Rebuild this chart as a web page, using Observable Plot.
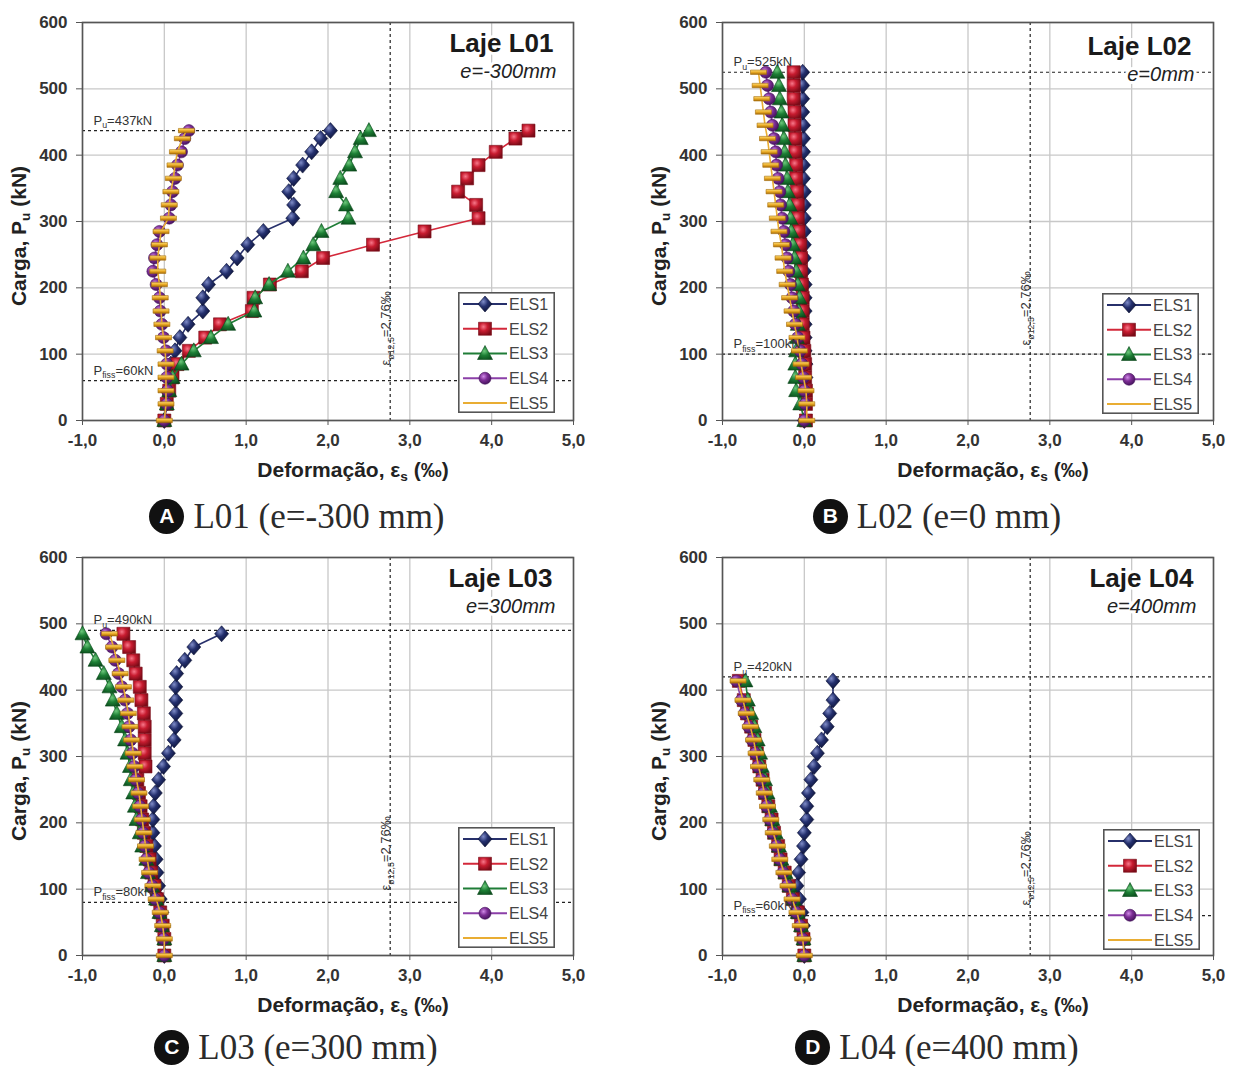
<!DOCTYPE html>
<html>
<head>
<meta charset="utf-8">
<script src="https://cdn.jsdelivr.net/npm/d3@7"></script>
<script src="https://cdn.jsdelivr.net/npm/@observablehq/plot@0.6"></script>
<style>
  html, body { margin: 0; padding: 0; background: #fff; }
  body { width: 1234px; height: 1066px; overflow: hidden; position: relative; font-family: "Liberation Sans", Arial, sans-serif; }
  .abs { position: absolute; }
  .xlab, .ylab { position: absolute; font-weight: bold; font-size: 21px; color: #222; white-space: nowrap; line-height: 1; }
  .xlab { transform: translate(-50%, -50%); }
  .ylab { transform: translate(-50%, -50%) rotate(-90deg); }
  .xlab sub, .ylab sub { font-size: 65%; vertical-align: -0.3em; }
  .cap { position: absolute; width: 420px; height: 50px; display: flex; align-items: center; justify-content: center; gap: 9px; }
  .badge { width: 35px; height: 35px; border-radius: 50%; background: #111; color: #fff; font: bold 21px "Liberation Sans", Arial, sans-serif; display: flex; align-items: center; justify-content: center; }
  .ctext { font-family: "Liberation Serif", "Times New Roman", serif; font-size: 35px; color: #2b2b2b; line-height: 1; }
</style>
</head>
<body>
<svg width="0" height="0" style="position:absolute">
  <defs>
    <radialGradient id="gELS1" cx="38%" cy="35%" r="70%">
      <stop offset="0%" stop-color="#7f8cc8"/><stop offset="45%" stop-color="#24306e"/><stop offset="100%" stop-color="#0c1236"/>
    </radialGradient>
    <radialGradient id="gELS2" cx="38%" cy="35%" r="70%">
      <stop offset="0%" stop-color="#f7788a"/><stop offset="45%" stop-color="#c81c30"/><stop offset="100%" stop-color="#7a0b17"/>
    </radialGradient>
    <radialGradient id="gELS3" cx="45%" cy="40%" r="70%">
      <stop offset="0%" stop-color="#6cc87b"/><stop offset="45%" stop-color="#1d7f35"/><stop offset="100%" stop-color="#0a4a1b"/>
    </radialGradient>
    <radialGradient id="gELS4" cx="38%" cy="35%" r="70%">
      <stop offset="0%" stop-color="#cf8ae6"/><stop offset="45%" stop-color="#7d2e96"/><stop offset="100%" stop-color="#43125a"/>
    </radialGradient>
    <linearGradient id="gELS5" x1="0" y1="0" x2="0" y2="1">
      <stop offset="0%" stop-color="#ffe07a"/><stop offset="50%" stop-color="#eaaa25"/><stop offset="100%" stop-color="#a66c08"/>
    </linearGradient>
  </defs>
</svg>
<div id="root"></div>
<script>
// ---------------- data ----------------
const seriesNames = ["ELS1", "ELS2", "ELS3", "ELS4", "ELS5"];
const xTicks = [-1, 0, 1, 2, 3, 4, 5];
const yTicks = [0, 100, 200, 300, 400, 500, 600];
const strainLimit = 2.76;
const strainLimitLabel = "2,76";

const slabTitles = ["Laje L01", "Laje L02", "Laje L03", "Laje L04"];
const eccLabels = ["e=-300mm", "e=0mm", "e=300mm", "e=400mm"];
const captionLetters = ["A", "B", "C", "D"];
const captionTexts = ["L01 (e=-300 mm)", "L02 (e=0 mm)", "L03 (e=300 mm)", "L04 (e=400 mm)"];
const puValues = [437, 525, 490, 420];
const pfissValues = [60, 100, 80, 60];

// L01
const loadsL01 = [0, 25, 45, 65, 85, 105, 125, 145, 165, 185, 205, 225, 245, 265, 285, 305, 325, 345, 365, 385, 405, 425, 437];
const l01ELS1 = [0.00, 0.02, 0.03, 0.05, 0.08, 0.13, 0.19, 0.29, 0.47, 0.47, 0.54, 0.76, 0.89, 1.02, 1.21, 1.57, 1.58, 1.52, 1.58, 1.69, 1.80, 1.91, 2.03];
const l01ELS2 = [0.00, 0.03, 0.06, 0.10, 0.16, 0.30, 0.50, 0.68, 1.07, 1.09, 1.29, 1.68, 1.94, 2.55, 3.18, 3.84, 3.81, 3.59, 3.70, 3.84, 4.05, 4.29, 4.45];
const l01ELS3 = [0.00, 0.03, 0.06, 0.10, 0.21, 0.36, 0.57, 0.78, 1.10, 1.11, 1.28, 1.51, 1.70, 1.82, 1.92, 2.25, 2.22, 2.10, 2.15, 2.26, 2.33, 2.40, 2.50];
const l01ELS4 = [0.00, 0.03, 0.04, 0.03, 0.03, 0.02, -0.01, -0.03, -0.05, -0.06, -0.10, -0.14, -0.12, -0.09, -0.06, 0.06, 0.08, 0.10, 0.13, 0.16, 0.21, 0.25, 0.30];
const l01ELS5 = [0.00, 0.02, 0.02, 0.02, 0.02, 0.01, -0.01, -0.03, -0.04, -0.05, -0.06, -0.08, -0.08, -0.06, -0.04, 0.05, 0.06, 0.08, 0.11, 0.13, 0.16, 0.22, 0.27];

// L02
const loadsL02 = [0, 25, 45, 65, 85, 105, 125, 145, 165, 185, 205, 225, 245, 265, 285, 305, 325, 345, 365, 385, 405, 425, 445, 465, 485, 505, 525];
const l02ELS1 = [0.00, 0.02, 0.02, 0.02, 0.02, 0.01, 0.01, 0.01, 0.01, 0.01, 0.01, 0.00, 0.00, 0.00, 0.00, 0.00, 0.00, 0.00, -0.01, -0.01, -0.01, -0.01, -0.01, -0.02, -0.02, -0.02, -0.02];
const l02ELS2 = [0.02, 0.02, 0.02, 0.01, 0.01, 0.00, -0.01, -0.02, -0.02, -0.02, -0.03, -0.04, -0.04, -0.05, -0.07, -0.08, -0.08, -0.09, -0.10, -0.10, -0.11, -0.11, -0.12, -0.12, -0.13, -0.13, -0.13];
const l02ELS3 = [0.00, -0.05, -0.10, -0.11, -0.11, -0.10, -0.09, -0.08, -0.07, -0.06, -0.08, -0.10, -0.12, -0.14, -0.16, -0.17, -0.18, -0.20, -0.21, -0.23, -0.24, -0.25, -0.27, -0.28, -0.30, -0.31, -0.33];
const l02ELS4 = [0.00, 0.01, 0.00, -0.01, -0.03, -0.05, -0.08, -0.11, -0.13, -0.15, -0.17, -0.19, -0.21, -0.23, -0.25, -0.27, -0.29, -0.30, -0.32, -0.34, -0.35, -0.37, -0.39, -0.41, -0.43, -0.45, -0.47];
const l02ELS5 = [0.03, 0.03, 0.02, -0.01, -0.04, -0.06, -0.09, -0.12, -0.15, -0.18, -0.21, -0.24, -0.26, -0.28, -0.31, -0.33, -0.35, -0.37, -0.39, -0.41, -0.43, -0.45, -0.48, -0.50, -0.52, -0.54, -0.56];

// L03
const loadsL03 = [0, 25, 45, 65, 85, 105, 125, 145, 165, 185, 205, 225, 245, 265, 285, 305, 325, 345, 365, 385, 405, 425, 445, 465, 485];
const l03ELS1 = [0.00, 0.00, -0.01, -0.03, -0.05, -0.07, -0.09, -0.10, -0.12, -0.14, -0.14, -0.13, -0.11, -0.07, -0.01, 0.05, 0.12, 0.14, 0.14, 0.14, 0.14, 0.15, 0.25, 0.36, 0.70];
const l03ELS2 = [0.00, 0.00, -0.02, -0.05, -0.09, -0.12, -0.16, -0.18, -0.22, -0.25, -0.27, -0.29, -0.31, -0.33, -0.23, -0.24, -0.24, -0.24, -0.25, -0.28, -0.30, -0.35, -0.38, -0.43, -0.50];
const l03ELS3 = [0.00, 0.00, -0.03, -0.06, -0.10, -0.15, -0.20, -0.22, -0.27, -0.30, -0.34, -0.36, -0.38, -0.41, -0.42, -0.45, -0.48, -0.52, -0.58, -0.63, -0.67, -0.74, -0.84, -0.94, -1.00];
const l03ELS4 = [0.00, -0.01, -0.03, -0.06, -0.11, -0.15, -0.19, -0.22, -0.24, -0.26, -0.28, -0.30, -0.32, -0.35, -0.37, -0.39, -0.41, -0.43, -0.45, -0.48, -0.52, -0.56, -0.60, -0.64, -0.71];
const l03ELS5 = [0.00, 0.00, -0.02, -0.05, -0.10, -0.14, -0.18, -0.21, -0.23, -0.25, -0.27, -0.29, -0.31, -0.34, -0.36, -0.38, -0.40, -0.42, -0.44, -0.47, -0.50, -0.54, -0.58, -0.62, -0.67];

// L04
const loadsL04 = [0, 25, 45, 65, 85, 105, 125, 145, 165, 185, 205, 225, 245, 265, 285, 305, 325, 345, 365, 385, 414];
const l04ELS1 = [0.00, 0.00, -0.01, -0.03, -0.06, -0.09, -0.07, -0.04, -0.01, 0.00, 0.03, 0.03, 0.05, 0.08, 0.12, 0.16, 0.21, 0.28, 0.31, 0.35, 0.35];
const l04ELS2 = [0.00, -0.01, -0.04, -0.08, -0.14, -0.19, -0.24, -0.29, -0.32, -0.37, -0.40, -0.44, -0.48, -0.51, -0.55, -0.58, -0.61, -0.65, -0.70, -0.74, -0.80];
const l04ELS3 = [0.00, -0.01, -0.04, -0.08, -0.13, -0.18, -0.23, -0.28, -0.31, -0.35, -0.39, -0.42, -0.45, -0.48, -0.52, -0.54, -0.57, -0.61, -0.65, -0.69, -0.72];
const l04ELS4 = [0.00, -0.02, -0.05, -0.10, -0.15, -0.21, -0.26, -0.30, -0.34, -0.39, -0.42, -0.46, -0.50, -0.53, -0.57, -0.60, -0.64, -0.68, -0.73, -0.77, -0.83];
const l04ELS5 = [0.00, -0.02, -0.05, -0.09, -0.15, -0.20, -0.25, -0.30, -0.33, -0.38, -0.41, -0.45, -0.49, -0.52, -0.56, -0.59, -0.62, -0.66, -0.71, -0.75, -0.81];

const panelLoads = [loadsL01, loadsL02, loadsL03, loadsL04];
const panelStrains = [
  [l01ELS1, l01ELS2, l01ELS3, l01ELS4, l01ELS5],
  [l02ELS1, l02ELS2, l02ELS3, l02ELS4, l02ELS5],
  [l03ELS1, l03ELS2, l03ELS3, l03ELS4, l03ELS5],
  [l04ELS1, l04ELS2, l04ELS3, l04ELS4, l04ELS5]
];

// ---------------- styling / layout ----------------
const lineColors = ["#27306b", "#d3283a", "#1f7d37", "#8b3fa8", "#e9ad33"];
const markStroke = ["#0c1236", "#7a0b17", "#0a4a1b", "#43125a", "#a66c08"];
const symDiamond = {draw(c) { c.moveTo(0, -8); c.lineTo(7, 0); c.lineTo(0, 8); c.lineTo(-7, 0); c.closePath(); }};
const symSquare = {draw(c) { c.rect(-6.5, -6.5, 13, 13); }};
const symTriangle = {draw(c) { c.moveTo(0, -8); c.lineTo(7.5, 6); c.lineTo(-7.5, 6); c.closePath(); }};
const symCircle = {draw(c) { c.moveTo(6, 0); c.arc(0, 0, 6, 0, 2 * Math.PI); }};
const symDash = {draw(c) { c.rect(-8, -2.2, 16, 4.4); }};
const symbols = [symDiamond, symSquare, symTriangle, symCircle, symDash];

const layout = [
  {plotLeft: 82, plotTop: 22, mr: 27, capX: 297, capY: 516, legRight: 18, legBottom: 7, legW: 97, epsDy: -55, titleDx: -20, titleDy: 11},
  {plotLeft: 722, plotTop: 22, mr: 21, capX: 937, capY: 516, legRight: 14, legBottom: 6, legW: 97, epsDy: -75, titleDx: -22, titleDy: 14},
  {plotLeft: 82, plotTop: 557, mr: 27, capX: 296, capY: 1047, legRight: 18, legBottom: 7, legW: 97, epsDy: -65, titleDx: -21, titleDy: 11},
  {plotLeft: 722, plotTop: 557, mr: 21, capX: 937, capY: 1047, legRight: 13, legBottom: 5, legW: 97, epsDy: -50, titleDx: -20, titleDy: 11}
];
const PW = 491, PH = 398, ML = 82, MT = 22, MB = 40;
const fmtX = d => d.toFixed(1).replace(".", ",");

function applySubscripts(root) {
  const ns = "http://www.w3.org/2000/svg";
  root.querySelectorAll("text").forEach(t => {
    const s = t.textContent;
    if (!s.includes("_{")) return;
    const fs = parseFloat(getComputedStyle(t).fontSize) || 13;
    const parts = s.split(/(_\{[^}]*\})/);
    while (t.firstChild) t.removeChild(t.firstChild);
    let shifted = false;
    parts.forEach(p => {
      if (!p) return;
      const ts = document.createElementNS(ns, "tspan");
      if (p.startsWith("_{")) {
        ts.textContent = p.slice(2, -1);
        ts.setAttribute("dy", (fs * 0.28).toFixed(1));
        ts.setAttribute("font-size", (fs * 0.68).toFixed(1));
        shifted = true;
      } else {
        ts.textContent = p;
        if (shifted) { ts.setAttribute("dy", (-fs * 0.28).toFixed(1)); shifted = false; }
      }
      t.appendChild(ts);
    });
  });
}

const root = document.getElementById("root");

panelLoads.forEach((loads, k) => {
  const L = layout[k];
  const width = ML + PW + L.mr;
  const height = MT + PH + MB;
  const seriesMarks = [];
  panelStrains[k].forEach((vals, i) => {
    const rows = loads.map((load, j) => ({load, strain: vals[j], series: seriesNames[i]}));
    seriesMarks.push(Plot.line(rows, {x: "strain", y: "load", stroke: lineColors[i], strokeWidth: 1.6}));
    seriesMarks.push(Plot.dot(rows, {x: "strain", y: "load", symbol: symbols[i], r: 5, fill: `url(#g${seriesNames[i]})`, stroke: markStroke[i], strokeWidth: 0.6}));
  });

  const chart = Plot.plot({
    width, height,
    marginLeft: ML, marginRight: L.mr, marginTop: MT, marginBottom: MB,
    x: {domain: [-1, 5]},
    y: {domain: [0, 600]},
    style: {fontFamily: '"Liberation Sans", Arial, sans-serif', color: "#333", background: "transparent", overflow: "visible"},
    marks: [
      Plot.gridX(xTicks, {stroke: "#c8c8c8", strokeOpacity: 1, strokeWidth: 1.3}),
      Plot.gridY(yTicks, {stroke: "#c8c8c8", strokeOpacity: 1, strokeWidth: 1.3}),
      Plot.axisX(xTicks, {tickFormat: fmtX, tickSize: 5, tickPadding: 8, fontSize: 17, fontWeight: "bold", label: null, stroke: "#555"}),
      Plot.axisY(yTicks, {tickSize: 6, tickPadding: 9, fontSize: 17, fontWeight: "bold", label: null, stroke: "#555"}),
      Plot.ruleY([puValues[k]], {stroke: "#222", strokeWidth: 1.2, strokeDasharray: "3,3"}),
      Plot.ruleY([pfissValues[k]], {stroke: "#222", strokeWidth: 1.2, strokeDasharray: "3,3"}),
      Plot.ruleX([strainLimit], {stroke: "#222", strokeWidth: 1.2, strokeDasharray: "3,3"}),
      Plot.frame({stroke: "#555", strokeWidth: 1.6}),
      ...seriesMarks,
      Plot.text([puValues[k]], {y: d => d, frameAnchor: "left", text: d => `P_{u}=${d}kN`, dx: 11, dy: -6, textAnchor: "start", lineAnchor: "bottom", fontSize: 13, fontWeight: "normal", fill: "#333"}),
      Plot.text([pfissValues[k]], {y: d => d, frameAnchor: "left", text: d => `P_{fiss}=${d}kN`, dx: 11, dy: -6, textAnchor: "start", lineAnchor: "bottom", fontSize: 13, fontWeight: "normal", fill: "#333"}),
      Plot.text([strainLimit], {x: d => d, frameAnchor: "bottom", text: () => `ε_{ø12,5}=${strainLimitLabel}‰`, rotate: -90, textAnchor: "start", lineAnchor: "bottom", dy: L.epsDy, dx: 0, fontSize: 13, fontWeight: "normal", fill: "#333"}),
      Plot.text([slabTitles[k]], {frameAnchor: "top-right", text: d => d, dx: L.titleDx, dy: L.titleDy, textAnchor: "end", lineAnchor: "top", fontSize: 26, fontWeight: "bold", fill: "#1a1a1a", stroke: "#fff", strokeWidth: 6, paintOrder: "stroke"}),
      Plot.text([eccLabels[k]], {frameAnchor: "top-right", text: d => d, dx: L.titleDx + 3, dy: L.titleDy + 30, textAnchor: "end", lineAnchor: "top", fontSize: 20, fontStyle: "italic", fontWeight: "normal", fill: "#222", stroke: "#fff", strokeWidth: 6, paintOrder: "stroke"})
    ]
  });
  chart.classList.add("abs");
  chart.style.left = (L.plotLeft - ML) + "px";
  chart.style.top = (L.plotTop - MT) + "px";
  root.appendChild(chart);
  applySubscripts(chart);

  // axis titles
  const xl = document.createElement("div");
  xl.className = "xlab";
  xl.innerHTML = "Deformação, ε<sub>s</sub> (‰)";
  xl.style.left = (L.plotLeft + 271) + "px";
  xl.style.top = (L.plotTop + 449) + "px";
  root.appendChild(xl);
  const yl = document.createElement("div");
  yl.className = "ylab";
  yl.innerHTML = "Carga, P<sub>u</sub> (kN)";
  yl.style.left = (L.plotLeft - 62) + "px";
  yl.style.top = (L.plotTop + 214) + "px";
  root.appendChild(yl);

  // legend
  const legH = 121, rowH = 24.75;
  const leg = d3.create("svg")
    .attr("width", L.legW).attr("height", legH)
    .style("position", "absolute")
    .style("left", (L.plotLeft + PW - L.legRight - L.legW) + "px")
    .style("top", (L.plotTop + PH - L.legBottom - legH) + "px");
  leg.append("rect").attr("x", 0.8).attr("y", 0.8).attr("width", L.legW - 1.6).attr("height", legH - 1.6)
    .attr("fill", "#fff").attr("stroke", "#555").attr("stroke-width", 1.6);
  seriesNames.forEach((name, i) => {
    const cy = 12 + i * rowH;
    leg.append("line").attr("x1", 5).attr("x2", 49).attr("y1", cy).attr("y2", cy)
      .attr("stroke", lineColors[i]).attr("stroke-width", 2);
    if (i < 4) {
      leg.append("path").attr("d", d3.symbol(symbols[i])()).attr("transform", `translate(27,${cy})`)
        .attr("fill", `url(#g${name})`).attr("stroke", markStroke[i]).attr("stroke-width", 0.6);
    }
    leg.append("text").attr("x", 51).attr("y", cy).attr("dy", "0.36em")
      .attr("font-family", '"Liberation Sans", Arial, sans-serif').attr("font-size", 16).attr("fill", "#444")
      .text(name);
  });
  root.appendChild(leg.node());

  // caption
  const cap = document.createElement("div");
  cap.className = "cap";
  cap.style.left = (L.capX - 210) + "px";
  cap.style.top = (L.capY - 25) + "px";
  const b = document.createElement("span");
  b.className = "badge"; b.textContent = captionLetters[k];
  const ct = document.createElement("span");
  ct.className = "ctext"; ct.textContent = captionTexts[k];
  cap.appendChild(b); cap.appendChild(ct);
  root.appendChild(cap);
});
</script>
</body>
</html>
